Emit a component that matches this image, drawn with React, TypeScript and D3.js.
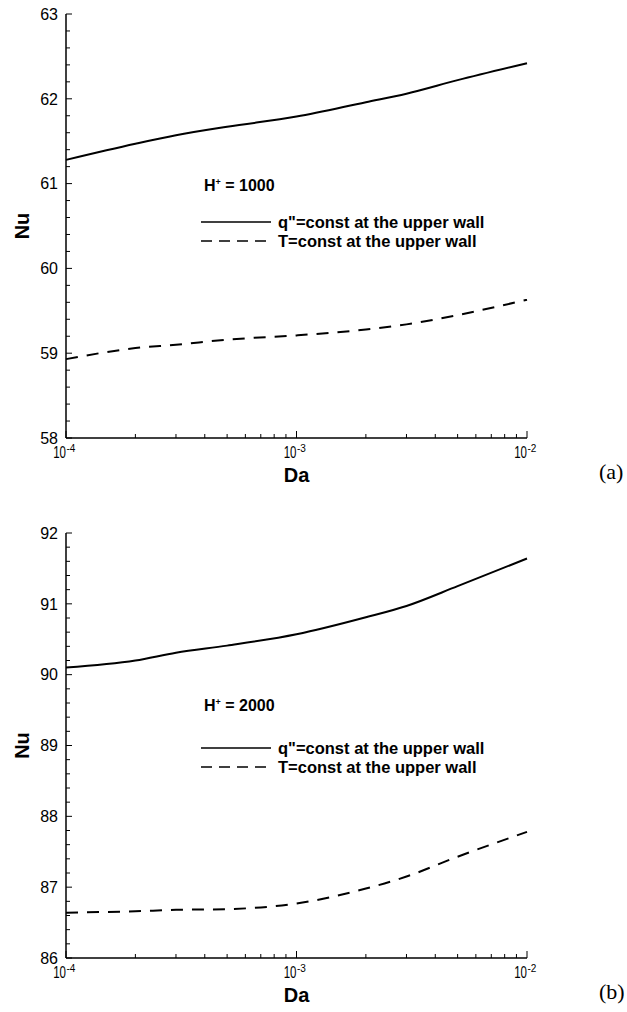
import React from "react";
import * as d3 from "d3";

const daValues = [1e-4, 2e-4, 3e-4, 5e-4, 1e-3, 2e-3, 3e-3, 5e-3, 1e-2];

const nuFluxA = [61.28, 61.47, 61.57, 61.67, 61.79, 61.96, 62.06, 62.22, 62.42];
const nuTempA = [58.93, 59.06, 59.1, 59.16, 59.21, 59.28, 59.34, 59.45, 59.63];

const nuFluxB = [90.1, 90.2, 90.31, 90.41, 90.57, 90.81, 90.97, 91.25, 91.64];
const nuTempB = [86.64, 86.66, 86.68, 86.69, 86.77, 86.98, 87.15, 87.43, 87.78];

const xTickExps = [-4, -3, -2];
const yTicksA = [58, 59, 60, 61, 62, 63];
const yTicksB = [86, 87, 88, 89, 90, 91, 92];

const legendLabels = ['q"=const at the upper wall', "T=const at the upper wall"];

const SANS = "Arial, 'Liberation Sans', Helvetica, sans-serif";
const SERIF = "'Times New Roman', 'Liberation Serif', serif";

type PanelProps = {
  top: number;
  bottom: number;
  yDomain: [number, number];
  yTicks: number[];
  flux: number[];
  temp: number[];
  hLabel: string;
  hY: number;
  l1Y: number;
  l2Y: number;
  tag: string;
  xLabelOffset: number;
};

function Panel(p: PanelProps) {
  const left = 66;
  const right = 527;
  const x = d3.scaleLog().domain([1e-4, 1e-2]).range([left, right]);
  const y = d3.scaleLinear().domain(p.yDomain).range([p.bottom, p.top]);
  const line = d3
    .line<number>()
    .x((_, i) => x(daValues[i]))
    .y((v) => y(v))
    .curve(d3.curveMonotoneX);

  const minorX: number[] = [];
  for (const e of [-4, -3]) {
    for (let m = 2; m <= 9; m++) minorX.push(m * Math.pow(10, e));
  }
  const minorY: number[] = [];
  const [y0, y1] = p.yDomain;
  for (let v = y0; v < y1 - 1e-9; v += 1) {
    for (let k = 1; k <= 4; k++) minorY.push(v + k * 0.2);
  }

  const midY = (p.top + p.bottom) / 2;
  const lx0 = 201;
  const lx1 = 271;

  return (
    <g>
      {/* axes */}
      <line x1={left} x2={left} y1={p.top} y2={p.bottom} stroke="#000" strokeWidth={1.5} />
      <line x1={left} x2={right} y1={p.bottom} y2={p.bottom} stroke="#000" strokeWidth={1.5} />
      {/* y ticks */}
      {p.yTicks.map((t) => (
        <g key={"yt" + t}>
          <line x1={left} x2={left + 6} y1={y(t)} y2={y(t)} stroke="#000" strokeWidth={1} />
          <text
            x={58}
            y={y(t)}
            dy="0.36em"
            textAnchor="end"
            fontFamily={SANS}
            fontSize={16}
            fill="#000"
          >
            {t}
          </text>
        </g>
      ))}
      {minorY.map((t, i) => (
        <line key={"ym" + i} x1={left} x2={left + 4} y1={y(t)} y2={y(t)} stroke="#000" strokeWidth={1} />
      ))}
      {/* x ticks */}
      {xTickExps.map((e) => {
        const xv = x(Math.pow(10, e));
        const by = p.bottom + p.xLabelOffset;
        return (
          <g key={"xt" + e}>
            <line x1={xv} x2={xv} y1={p.bottom} y2={p.bottom - 7} stroke="#000" strokeWidth={1} />
            <text
              transform={`translate(${xv},${by}) scale(0.72,1)`}
              textAnchor="end"
              fontFamily={SANS}
              fontSize={16}
              fill="#000"
            >
              10
            </text>
            <text x={xv + 0.5} y={by - 6} fontFamily={SANS} fontSize={10} fill="#000">
              {"-" + Math.abs(e)}
            </text>
          </g>
        );
      })}
      {minorX.map((t, i) => (
        <line key={"xm" + i} x1={x(t)} x2={x(t)} y1={p.bottom} y2={p.bottom - 4} stroke="#000" strokeWidth={1} />
      ))}
      {/* axis labels */}
      <text
        x={(left + right) / 2}
        y={p.bottom + 44}
        textAnchor="middle"
        fontFamily={SANS}
        fontWeight="bold"
        fontSize={20}
        fill="#000"
      >
        Da
      </text>
      <text
        transform={`translate(29,${midY}) rotate(-90)`}
        textAnchor="middle"
        fontFamily={SANS}
        fontWeight="bold"
        fontSize={20}
        fill="#000"
      >
        Nu
      </text>
      {/* curves */}
      <path d={line(p.flux) || ""} fill="none" stroke="#000" strokeWidth={2} />
      <path d={line(p.temp) || ""} fill="none" stroke="#000" strokeWidth={2} strokeDasharray="12,9" />
      {/* legend */}
      <text x={204} y={p.hY} fontFamily={SANS} fontWeight="bold" fontSize={16} fill="#000">
        H<tspan dy={-6} fontSize={9}>+</tspan>
        <tspan dy={6}>{" = " + p.hLabel}</tspan>
      </text>
      <line x1={lx0} x2={lx1} y1={p.l1Y} y2={p.l1Y} stroke="#000" strokeWidth={1.5} />
      <text x={278} y={p.l1Y + 5.5} fontFamily={SANS} fontWeight="bold" fontSize={16.5} fill="#000">
        {legendLabels[0]}
      </text>
      <line
        x1={lx0}
        x2={lx1}
        y1={p.l2Y}
        y2={p.l2Y}
        stroke="#000"
        strokeWidth={1.5}
        strokeDasharray="11,7"
      />
      <text x={278} y={p.l2Y + 6} fontFamily={SANS} fontWeight="bold" fontSize={16.5} fill="#000">
        {legendLabels[1]}
      </text>
      {/* panel tag */}
      <text x={599} y={p.bottom + 41} fontFamily={SERIF} fontSize={22} fill="#000">
        {p.tag}
      </text>
    </g>
  );
}

export default function App() {
  return (
    <svg
      width={627}
      height={1012}
      style={{ position: "absolute", left: 0, top: 0, background: "#fff" }}
    >
      <rect width={627} height={1012} fill="#fff" />
      <Panel
        top={14}
        bottom={438}
        yDomain={[58, 63]}
        yTicks={yTicksA}
        flux={nuFluxA}
        temp={nuTempA}
        hLabel="1000"
        hY={191}
        l1Y={222}
        l2Y={241}
        tag="(a)"
        xLabelOffset={20}
      />
      <Panel
        top={533}
        bottom={958}
        yDomain={[86, 92]}
        yTicks={yTicksB}
        flux={nuFluxB}
        temp={nuTempB}
        hLabel="2000"
        hY={711}
        l1Y={748}
        l2Y={767}
        tag="(b)"
        xLabelOffset={20}
      />
    </svg>
  );
}
